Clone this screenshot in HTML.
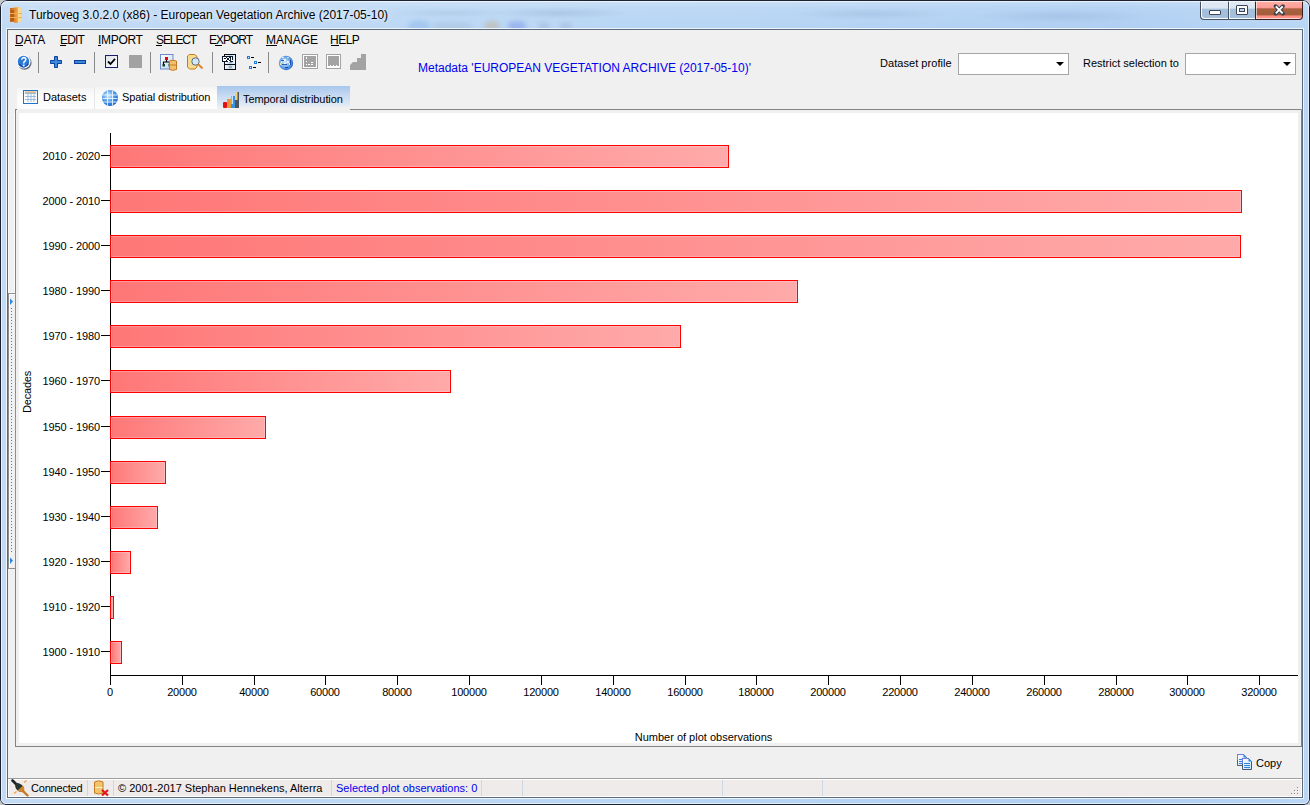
<!DOCTYPE html>
<html><head><meta charset="utf-8">
<style>
html,body{margin:0;padding:0;width:1310px;height:805px;overflow:hidden;background:#c8c8c8;}
*{box-sizing:border-box;}
#win{position:absolute;left:0;top:0;width:1310px;height:805px;font-family:"Liberation Sans",sans-serif;color:#000;
 border-radius:7px 7px 6px 6px;overflow:hidden;
 background:
  radial-gradient(ellipse 70px 6px at 560px 13px, rgba(110,140,180,0.22), rgba(110,140,180,0) 100%),
  radial-gradient(ellipse 80px 6px at 870px 14px, rgba(110,140,180,0.18), rgba(110,140,180,0) 100%),
  radial-gradient(ellipse 90px 7px at 1060px 16px, rgba(110,140,180,0.18), rgba(110,140,180,0) 100%),
  radial-gradient(ellipse 60px 5px at 450px 13px, rgba(110,140,180,0.15), rgba(110,140,180,0) 100%),
  linear-gradient(180deg, rgba(255,255,255,0.3) 0px, rgba(255,255,255,0.08) 8px, rgba(255,255,255,0) 28px),
  linear-gradient(90deg,#c2daf4 0%,#bcd8f5 30%,#b6d4f4 60%,#afcff2 85%,#b9d6f5 100%);}
.abs{position:absolute;}
.t{position:absolute;white-space:pre;line-height:1;}
.f12{font-size:12px;}
.f11{font-size:11px;}
.menu{font-size:12px;top:34px;}
.menu u{text-decoration:none;border-bottom:1px solid #000;}
.sep{position:absolute;top:52px;width:1px;height:21px;background:#8a8a8a;}
.lab{font-size:11px;}
.xl{width:100px;text-align:center;letter-spacing:-0.2px;}
.bar{position:absolute;left:110px;height:23px;border:1px solid #ff0000;
 background:linear-gradient(90deg,#ff7777,#ffaaaa);box-shadow:inset 0 0 0 1px rgba(255,255,255,0.22);}
.combo{position:absolute;top:53px;width:111px;height:22px;border:1px solid #a5a5a5;background:#fff;}
.combo:after{content:"";position:absolute;right:4px;top:8px;border-left:4px solid transparent;border-right:4px solid transparent;border-top:4px solid #000;}
.ssep{position:absolute;top:780px;width:1px;height:16px;background:#cdd8e3;}
</style></head><body>
<div id="win">
 <!-- glass blurred icons -->
 <div class="abs" style="left:408px;top:20px;width:22px;height:12px;border-radius:50%;background:rgba(120,170,230,0.35);filter:blur(2px);"></div>
 <div class="abs" style="left:432px;top:22px;width:40px;height:8px;border-radius:40%;background:rgba(130,150,180,0.18);filter:blur(2px);"></div>
 <div class="abs" style="left:484px;top:21px;width:16px;height:10px;border-radius:50%;background:rgba(200,160,110,0.35);filter:blur(2px);"></div>
 <div class="abs" style="left:508px;top:21px;width:18px;height:10px;border-radius:40%;background:rgba(100,120,230,0.35);filter:blur(2px);"></div>
 <div class="abs" style="left:538px;top:22px;width:12px;height:8px;border-radius:50%;background:rgba(120,140,170,0.2);filter:blur(2px);"></div>
 <div class="abs" style="left:560px;top:22px;width:12px;height:8px;border-radius:50%;background:rgba(120,140,170,0.2);filter:blur(2px);"></div>
 <!-- title icon -->
 <svg class="abs" style="left:10px;top:7px" width="12" height="16" viewBox="0 0 12 16" shape-rendering="crispEdges">
  <defs><linearGradient id="dbg" x1="0" x2="1"><stop offset="0" stop-color="#c0661c"/><stop offset="0.4" stop-color="#e08a30"/><stop offset="0.62" stop-color="#eaa44a"/><stop offset="0.66" stop-color="#f7dc98"/><stop offset="1" stop-color="#f6d48a"/></linearGradient></defs>
  <rect x="3" y="0" width="6" height="1" fill="#f2b860"/>
  <rect x="0" y="1" width="12" height="14" fill="url(#dbg)"/>
  <rect x="4" y="15" width="4" height="1" fill="#e8a050"/>
  <rect x="1" y="3" width="3" height="3" fill="#a85018" opacity="0.7"/>
  <rect x="1" y="7" width="3" height="3" fill="#a85018" opacity="0.7"/>
  <rect x="1" y="11" width="3" height="3" fill="#a85018" opacity="0.7"/>
  <rect x="0" y="6" width="12" height="1" fill="#f0b050"/>
  <rect x="0" y="10" width="12" height="1" fill="#f0b050"/>
 </svg>
 <div class="t f12" style="left:29px;top:9px;text-shadow:0 0 6px rgba(255,255,255,0.9),0 0 3px rgba(255,255,255,0.7);">Turboveg 3.0.2.0 (x86) - European Vegetation Archive (2017-05-10)</div>
 <!-- caption buttons -->
 <div class="abs" style="left:1200px;top:0;width:56px;height:20px;border:1px solid #46505e;border-top:none;border-right:none;border-radius:0 0 0 4px;background:linear-gradient(#e3ecf5 0%,#dbe6f1 42%,#a5c0dc 50%,#a3bedb 90%,#b4cbe3 100%);box-shadow:inset 1px -1px 0 rgba(255,255,255,0.9);"></div>
 <div class="abs" style="left:1228px;top:0;width:1px;height:19px;background:#46505e;"></div>
 <div class="abs" style="left:1229px;top:1px;width:1px;height:18px;background:rgba(255,255,255,0.8);"></div>
 <div class="abs" style="left:1209px;top:10px;width:12px;height:5px;background:#fff;border:1px solid #3c4656;border-radius:1px;"></div>
 <div class="abs" style="left:1236px;top:5px;width:12px;height:10px;border:1px solid #3c4656;border-radius:1px;background:#fff;"></div>
 <div class="abs" style="left:1239px;top:8px;width:6px;height:4px;border:1px solid #3c4656;background:#bcd6f0;"></div>
 <div class="abs" style="left:1255px;top:0;width:48px;height:20px;border:1px solid #3a2020;border-top:none;border-radius:0 0 4px 0;background:linear-gradient(#ffb4ac 0%,#ff9c94 40%,#a8603e 47%,#a45e3c 78%,#ff8c82 84%,#ff9a92 100%);box-shadow:inset 1px -1px 0 rgba(255,255,255,0.6);"></div>
 <svg class="abs" style="left:1273px;top:4px" width="13" height="12" viewBox="0 0 13 12">
  <path d="M2.6 2.2 L9.9 9.6 M9.9 2.2 L2.6 9.6" stroke="#34404e" stroke-width="3.8" fill="none" stroke-linecap="round"/>
  <path d="M2.8 2.4 L9.7 9.4 M9.7 2.4 L2.8 9.4" stroke="#fff" stroke-width="2" fill="none"/>
 </svg>

 <!-- client -->
 <div class="abs" style="left:6px;top:28px;width:1298px;height:771px;border:1px solid rgba(255,255,255,0.75);"></div>
 <div class="abs" style="left:7px;top:29px;width:1296px;height:769px;border:1px solid #5d6a7c;background:#f0f0f0;"></div>

 <!-- menu -->
 <div class="t menu" style="left:15px">DATA</div>
 <div class="t menu" style="left:60px;letter-spacing:-0.8px">EDIT</div>
 <div class="t menu" style="left:98px;letter-spacing:-0.3px">IMPORT</div>
 <div class="t menu" style="left:156px;letter-spacing:-1.1px">SELECT</div>
 <div class="t menu" style="left:209px;letter-spacing:-1px">EXPORT</div>
 <div class="t menu" style="left:266px">MANAGE</div>
 <div class="t menu" style="left:330px;letter-spacing:-0.5px">HELP</div>
 <div class="abs" style="left:15px;top:45px;width:8px;height:1px;background:#000"></div>
 <div class="abs" style="left:60px;top:45px;width:6px;height:1px;background:#000"></div>
 <div class="abs" style="left:98px;top:45px;width:3px;height:1px;background:#000"></div>
 <div class="abs" style="left:156px;top:45px;width:6px;height:1px;background:#000"></div>
 <div class="abs" style="left:215px;top:45px;width:7px;height:1px;background:#000"></div>
 <div class="abs" style="left:266px;top:45px;width:11px;height:1px;background:#000"></div>
 <div class="abs" style="left:331px;top:45px;width:8px;height:1px;background:#000"></div>

 <!-- toolbar -->
 <div class="sep" style="left:38px"></div>
 <div class="sep" style="left:94px"></div>
 <div class="sep" style="left:150px"></div>
 <div class="sep" style="left:212px"></div>
 <div class="sep" style="left:268px"></div>
 <!-- help -->
 <svg class="abs" style="left:16px;top:54px" width="18" height="18" viewBox="0 0 18 18">
  <circle cx="8.6" cy="8.8" r="7" fill="#4a5466" opacity="0.85"/>
  <circle cx="7.6" cy="7.6" r="7" fill="#fbfdff"/>
  <circle cx="7.5" cy="7.5" r="5.7" fill="#2a7ad6"/>
  <path d="M3 10 Q5 13 8 13 Q11 12.5 12.5 9.5" stroke="#0a3cb0" stroke-width="1.4" fill="none" opacity="0.8"/>
  <path d="M5.6 5.6 Q6 3.5 7.8 3.5 Q9.8 3.6 9.8 5.4 Q9.8 6.6 8.6 7.4 Q7.7 8 7.7 9.4" stroke="#fff" stroke-width="1.5" fill="none"/>
  <rect x="6.8" y="10.6" width="1.8" height="1.8" fill="#fff"/>
 </svg>
 <!-- plus/minus -->
 <svg class="abs" style="left:50px;top:56px" width="12" height="12" viewBox="0 0 12 12">
  <path d="M4.5 0.5 H7.5 V4.5 H11.5 V7.5 H7.5 V11.5 H4.5 V7.5 H0.5 V4.5 H4.5 Z" fill="#3a8ad8" stroke="#0b3fa0" stroke-width="1"/>
 </svg>
 <svg class="abs" style="left:74px;top:60px" width="12" height="4" viewBox="0 0 12 4">
  <rect x="0.5" y="0.5" width="11" height="3" fill="#3a8ad8" stroke="#0b3fa0" stroke-width="1"/>
 </svg>
 <!-- checkbox -->
 <div class="abs" style="left:105px;top:55px;width:13px;height:13px;border:1px solid #1c1f6a;background:linear-gradient(135deg,#dfe3ea,#fafbfc);"></div>
 <svg class="abs" style="left:107px;top:57px" width="9" height="9" viewBox="0 0 9 9">
  <path d="M1 4.5 L3.5 7 L8 1.8" stroke="#000" stroke-width="1.8" fill="none"/>
 </svg>
 <div class="abs" style="left:129px;top:55px;width:13px;height:13px;background:#a2a2a2;"></div>
 <!-- org chart + db -->
 <svg class="abs" style="left:159px;top:53px" width="19" height="18" viewBox="0 0 19 18">
  <defs><linearGradient id="og" x1="0" y1="0" x2="1" y2="1"><stop offset="0" stop-color="#fff"/><stop offset="1" stop-color="#bcd8f4"/></linearGradient></defs>
  <rect x="1.5" y="1.5" width="12.5" height="14.5" fill="url(#og)" stroke="#6f8cc8"/>
  <rect x="6" y="4" width="3" height="3" fill="#e00"/>
  <path d="M7.5 7 V9 M4.5 12 V9 H10.5 V12" stroke="#000" stroke-width="1.2" fill="none"/>
  <rect x="3.5" y="11" width="2.5" height="2.5" fill="#1a3a2a"/>
  <rect x="9.5" y="11" width="2.5" height="2.5" fill="#1a3a2a"/>
  <path d="M10.5 8 Q14 6.5 17.5 8 V16.5 Q14 18 10.5 16.5 Z" fill="#f3c070" stroke="#c47a20"/>
  <path d="M11 12 H17" stroke="#c47a20"/>
 </svg>
 <!-- db search -->
 <svg class="abs" style="left:186px;top:53px" width="19" height="18" viewBox="0 0 19 18">
  <path d="M1.5 3 L3.5 1.5 H8.5 L11 3.5 V14 L9 16 H3.5 L1.5 14 Z" fill="#f6dc90" stroke="#c87a18"/>
  <circle cx="9.5" cy="8.5" r="3.7" fill="#cfe8fa" stroke="#5a6a80" stroke-width="1"/>
  <path d="M12 11 L16.5 15.5" stroke="#d8862a" stroke-width="2"/>
 </svg>
 <!-- SQL -->
 <svg class="abs" style="left:221px;top:53px" width="16" height="18" viewBox="0 0 16 18" shape-rendering="crispEdges">
  <defs><linearGradient id="sqg" x1="0" x2="1"><stop offset="0" stop-color="#f4f9ff"/><stop offset="0.5" stop-color="#b9d6f2"/><stop offset="1" stop-color="#eaf4ff"/></linearGradient></defs>
  <rect x="3" y="1" width="12" height="16" fill="#0c0c10"/>
  <rect x="4" y="2" width="10" height="14" fill="url(#sqg)"/>
  <rect x="3" y="11" width="12" height="1" fill="#0c0c10"/>
  <rect x="8" y="9" width="3" height="1" fill="#a8a8a0"/>
  <rect x="8" y="13" width="3" height="2" fill="#b0aa98"/>
  <rect x="1" y="3" width="11" height="6" fill="#0c1a2c"/>
  <g fill="#fff">
   <rect x="2" y="4" width="3" height="1"/><rect x="2" y="5" width="1" height="1"/><rect x="2" y="6" width="3" height="1"/><rect x="4" y="7" width="1" height="1"/><rect x="2" y="7" width="3" height="1"/>
   <rect x="6" y="4" width="2" height="1"/><rect x="5" y="5" width="1" height="2"/><rect x="8" y="5" width="1" height="2"/><rect x="6" y="7" width="2" height="1"/><rect x="7" y="8" width="2" height="1"/>
   <rect x="10" y="4" width="1" height="4"/><rect x="10" y="7" width="2" height="1"/>
  </g>
 </svg>
 <!-- tree -->
 <svg class="abs" style="left:246px;top:55px" width="17" height="15" viewBox="0 0 17 15">
  <rect x="1" y="1" width="3" height="3" fill="#1e7ad8"/><rect x="5" y="2" width="3" height="1" fill="#000"/>
  <rect x="8" y="6" width="3" height="3" fill="#1e7ad8"/><rect x="12" y="7" width="3" height="1" fill="#000"/>
  <rect x="3" y="11" width="3" height="3" fill="#1e7ad8"/><rect x="7" y="12" width="3" height="1" fill="#000"/>
  <g fill="#e8f4ff"><rect x="2" y="2" width="1" height="1"/><rect x="9" y="7" width="1" height="1"/><rect x="4" y="12" width="1" height="1"/></g>
 </svg>
 <!-- globe -->
 <svg class="abs" style="left:278px;top:55px" width="16" height="16" viewBox="0 0 16 16">
  <defs><radialGradient id="glb" cx="0.42" cy="0.45" r="0.7"><stop offset="0" stop-color="#dcecfa"/><stop offset="0.45" stop-color="#7ab4ec"/><stop offset="0.8" stop-color="#2a6ed6"/><stop offset="1" stop-color="#1a30a8"/></radialGradient></defs>
  <circle cx="8" cy="8" r="7.2" fill="url(#glb)"/>
  <g fill="#ffffff" opacity="0.75"><rect x="4" y="2" width="2" height="1"/><rect x="9" y="2" width="2" height="1"/><rect x="5" y="4" width="3" height="2"/><rect x="9" y="6" width="2" height="2"/><rect x="6" y="8" width="2" height="2"/><rect x="3" y="6" width="1" height="2"/></g>
  <g fill="#1a3aa8" opacity="0.8"><rect x="3" y="5" width="3" height="1"/><rect x="4" y="9" width="5" height="1"/><rect x="12" y="5" width="1" height="5"/><rect x="7" y="12" width="3" height="1"/></g>
  <rect x="11" y="8" width="1" height="2" fill="#f8f0a0"/><rect x="2" y="8" width="1" height="2" fill="#f8f0a0"/>
 </svg>
 <!-- grey icons -->
 <div class="abs" style="left:302px;top:54px;width:16px;height:15px;border:1px solid #a3a3a3;background:#fff;"></div>
 <div class="abs" style="left:304px;top:56px;width:12px;height:11px;background:#a3a3a3;"></div>
 <svg class="abs" style="left:304px;top:56px" width="12" height="11" viewBox="0 0 12 11">
  <rect x="2" y="1" width="1" height="2" fill="#fff"/><rect x="2" y="5" width="1" height="1" fill="#fff"/>
  <rect x="2" y="8" width="1" height="1" fill="#fff"/><rect x="4" y="8" width="2" height="1" fill="#fff"/>
  <rect x="7" y="8" width="2" height="1" fill="#fff"/><rect x="7" y="6" width="2" height="1" fill="#fff"/>
 </svg>
 <div class="abs" style="left:326px;top:54px;width:15px;height:15px;border:1px solid #a3a3a3;background:#fff;"></div>
 <div class="abs" style="left:328px;top:56px;width:11px;height:11px;background:#a3a3a3;"></div>
 <svg class="abs" style="left:328px;top:56px" width="11" height="11" viewBox="0 0 11 11">
  <rect x="0" y="10" width="11" height="1" fill="#fff"/>
  <rect x="2" y="9" width="1" height="1" fill="#fff"/><rect x="5" y="9" width="1" height="1" fill="#fff"/><rect x="8" y="9" width="1" height="1" fill="#fff"/>
 </svg>
 <svg class="abs" style="left:350px;top:54px" width="16" height="16" viewBox="0 0 16 16">
  <path d="M11 0 H16 V16 H0 V11 L3 8 H7 V4 H11 Z" fill="#a3a3a3"/>
 </svg>

 <!-- metadata -->
 <div class="t f12" style="left:418px;top:62px;color:#0000f0">Metadata 'EUROPEAN VEGETATION ARCHIVE (2017-05-10)'</div>
 <div class="t f11" style="left:880px;top:58px;letter-spacing:0.05px">Dataset profile</div>
 <div class="combo" style="left:958px"></div>
 <div class="t f11" style="left:1083px;top:58px">Restrict selection to</div>
 <div class="combo" style="left:1185px"></div>

 <!-- tabs -->
 <div class="abs" style="left:17px;top:88px;width:78px;height:21px;background:linear-gradient(#f4f4f4,#fcfcfc 40%,#fdfdfd);border-right:1px solid #e6e6e6;"></div>
 <div class="abs" style="left:95px;top:87px;width:122px;height:22px;background:linear-gradient(#f4f4f4,#fcfcfc 40%,#fdfdfd);"></div>
 <div class="abs" style="left:217px;top:86px;width:133px;height:21px;background:linear-gradient(#a7c7ee,#c9dbf1 50%,#e6edf5);"></div>
 <!-- tab icons -->
 <svg class="abs" style="left:22px;top:89px" width="17" height="16" viewBox="0 0 17 16">
  <rect x="1.5" y="1.5" width="14" height="13" fill="#fff" stroke="#1f74d0"/>
  <rect x="2" y="2" width="13" height="3" fill="#e0fbff"/>
  <path d="M3 3.2 H14" stroke="#f7a23a" stroke-width="1.2"/>
  <path d="M3 4.5 H14 M3 7.5 H14 M3 10.5 H14 M6 3 V13 M9 3 V13 M12 3 V13" stroke="#9dbbdd" stroke-width="1" fill="none"/>
 </svg>
 <svg class="abs" style="left:101px;top:89px" width="18" height="18" viewBox="0 0 18 18">
  <defs><radialGradient id="glb2" cx="0.4" cy="0.35" r="0.75"><stop offset="0" stop-color="#cfeaff"/><stop offset="0.6" stop-color="#3a8be0"/><stop offset="1" stop-color="#1a5ac0"/></radialGradient></defs>
  <circle cx="9" cy="9" r="8" fill="url(#glb2)"/>
  <path d="M2 6 H16 M1.5 9.5 H16.5 M2 13 H16 M6.5 1.5 V16.5 M11.5 1.5 V16.5" stroke="#eaf6ff" stroke-width="1" fill="none" opacity="0.9"/>
 </svg>
 <svg class="abs" style="left:222px;top:91px" width="18" height="18" viewBox="0 0 18 18">
  <rect x="13" y="1" width="4" height="16" fill="#4a5560"/><rect x="13" y="1" width="2.5" height="8" fill="#f1cf7a"/>
  <rect x="9" y="5" width="4" height="12" fill="#3d8fe0"/><rect x="9.5" y="5" width="1.5" height="8" fill="#bfe3fb"/>
  <rect x="5" y="8" width="4" height="9" fill="#e39a3c"/>
  <rect x="1" y="11" width="4" height="6" rx="1" fill="#e50f0f"/>
 </svg>
 <div class="t f11" style="left:43px;top:92px">Datasets</div>
 <div class="t f11" style="left:122px;top:92px;letter-spacing:-0.08px">Spatial distribution</div>
 <div class="t f11" style="left:243px;top:94px;letter-spacing:-0.08px">Temporal distribution</div>

 <!-- panel -->
 <div class="abs" style="left:15px;top:109px;width:1287px;height:638px;border:1px solid #838383;border-top-color:transparent;"></div>
 <div class="abs" style="left:350px;top:109px;width:951px;height:1px;background:#838383;"></div>
 <div class="abs" style="left:15px;top:109px;width:2px;height:1px;background:#838383;"></div>
 <div class="abs" style="left:19px;top:113px;width:1279px;height:630px;background:#fff;"></div>

 <!-- splitter -->
 <div class="abs" style="left:8px;top:293px;width:8px;height:276px;border:1px solid #8e8e8e;background:#f0f0f0;box-shadow:inset 1px 1px 0 #fff;"></div>
 <div class="abs" style="left:8px;top:113px;width:1px;height:180px;background:#fbfbfb;"></div>
 <div class="abs" style="left:14px;top:113px;width:1px;height:180px;background:#fbfbfb;"></div>
 <div class="abs" style="left:8px;top:292px;width:7px;height:1px;background:#fbfbfb;"></div>
 <svg class="abs" style="left:9px;top:298px" width="5" height="8" viewBox="0 0 5 8"><path d="M1 0.5 L4 3.5 L1 7 Z" fill="#2b86e0"/></svg>
 <svg class="abs" style="left:9px;top:557px" width="5" height="8" viewBox="0 0 5 8"><path d="M1 0.5 L4 3.5 L1 7 Z" fill="#2b86e0"/></svg>
 <div class="abs" style="left:11px;top:308px;width:1px;height:245px;background:repeating-linear-gradient(#2b86e0 0 1px,transparent 1px 3px);"></div>

<div class="abs" style="left:110px;top:133px;width:1px;height:552px;background:#000"></div>
<div class="abs" style="left:110px;top:675px;width:1188px;height:1px;background:#000"></div>
<div class="bar" style="top:145px;width:619px"></div>
<div class="abs" style="left:101px;top:155px;width:9px;height:1px;background:#000"></div>
<div class="t lab" style="right:1210px;top:151px;letter-spacing:-0.12px">2010 - 2020</div>
<div class="bar" style="top:190px;width:1132px"></div>
<div class="abs" style="left:101px;top:200px;width:9px;height:1px;background:#000"></div>
<div class="t lab" style="right:1210px;top:196px;letter-spacing:-0.12px">2000 - 2010</div>
<div class="bar" style="top:235px;width:1131px"></div>
<div class="abs" style="left:101px;top:245px;width:9px;height:1px;background:#000"></div>
<div class="t lab" style="right:1210px;top:241px;letter-spacing:-0.12px">1990 - 2000</div>
<div class="bar" style="top:280px;width:688px"></div>
<div class="abs" style="left:101px;top:290px;width:9px;height:1px;background:#000"></div>
<div class="t lab" style="right:1210px;top:286px;letter-spacing:-0.12px">1980 - 1990</div>
<div class="bar" style="top:325px;width:571px"></div>
<div class="abs" style="left:101px;top:335px;width:9px;height:1px;background:#000"></div>
<div class="t lab" style="right:1210px;top:331px;letter-spacing:-0.12px">1970 - 1980</div>
<div class="bar" style="top:370px;width:341px"></div>
<div class="abs" style="left:101px;top:380px;width:9px;height:1px;background:#000"></div>
<div class="t lab" style="right:1210px;top:376px;letter-spacing:-0.12px">1960 - 1970</div>
<div class="bar" style="top:416px;width:156px"></div>
<div class="abs" style="left:101px;top:426px;width:9px;height:1px;background:#000"></div>
<div class="t lab" style="right:1210px;top:422px;letter-spacing:-0.12px">1950 - 1960</div>
<div class="bar" style="top:461px;width:56px"></div>
<div class="abs" style="left:101px;top:471px;width:9px;height:1px;background:#000"></div>
<div class="t lab" style="right:1210px;top:467px;letter-spacing:-0.12px">1940 - 1950</div>
<div class="bar" style="top:506px;width:48px"></div>
<div class="abs" style="left:101px;top:516px;width:9px;height:1px;background:#000"></div>
<div class="t lab" style="right:1210px;top:512px;letter-spacing:-0.12px">1930 - 1940</div>
<div class="bar" style="top:551px;width:21px"></div>
<div class="abs" style="left:101px;top:561px;width:9px;height:1px;background:#000"></div>
<div class="t lab" style="right:1210px;top:557px;letter-spacing:-0.12px">1920 - 1930</div>
<div class="bar" style="top:596px;width:4px"></div>
<div class="abs" style="left:101px;top:606px;width:9px;height:1px;background:#000"></div>
<div class="t lab" style="right:1210px;top:602px;letter-spacing:-0.12px">1910 - 1920</div>
<div class="bar" style="top:641px;width:12px"></div>
<div class="abs" style="left:101px;top:651px;width:9px;height:1px;background:#000"></div>
<div class="t lab" style="right:1210px;top:647px;letter-spacing:-0.12px">1900 - 1910</div>
<div class="abs" style="left:110px;top:675px;width:1px;height:10px;background:#000"></div>
<div class="t lab xl" style="left:60px;top:687px">0</div>
<div class="abs" style="left:182px;top:675px;width:1px;height:10px;background:#000"></div>
<div class="t lab xl" style="left:132px;top:687px">20000</div>
<div class="abs" style="left:254px;top:675px;width:1px;height:10px;background:#000"></div>
<div class="t lab xl" style="left:204px;top:687px">40000</div>
<div class="abs" style="left:325px;top:675px;width:1px;height:10px;background:#000"></div>
<div class="t lab xl" style="left:275px;top:687px">60000</div>
<div class="abs" style="left:397px;top:675px;width:1px;height:10px;background:#000"></div>
<div class="t lab xl" style="left:347px;top:687px">80000</div>
<div class="abs" style="left:469px;top:675px;width:1px;height:10px;background:#000"></div>
<div class="t lab xl" style="left:419px;top:687px">100000</div>
<div class="abs" style="left:541px;top:675px;width:1px;height:10px;background:#000"></div>
<div class="t lab xl" style="left:491px;top:687px">120000</div>
<div class="abs" style="left:613px;top:675px;width:1px;height:10px;background:#000"></div>
<div class="t lab xl" style="left:563px;top:687px">140000</div>
<div class="abs" style="left:685px;top:675px;width:1px;height:10px;background:#000"></div>
<div class="t lab xl" style="left:635px;top:687px">160000</div>
<div class="abs" style="left:756px;top:675px;width:1px;height:10px;background:#000"></div>
<div class="t lab xl" style="left:706px;top:687px">180000</div>
<div class="abs" style="left:828px;top:675px;width:1px;height:10px;background:#000"></div>
<div class="t lab xl" style="left:778px;top:687px">200000</div>
<div class="abs" style="left:900px;top:675px;width:1px;height:10px;background:#000"></div>
<div class="t lab xl" style="left:850px;top:687px">220000</div>
<div class="abs" style="left:972px;top:675px;width:1px;height:10px;background:#000"></div>
<div class="t lab xl" style="left:922px;top:687px">240000</div>
<div class="abs" style="left:1044px;top:675px;width:1px;height:10px;background:#000"></div>
<div class="t lab xl" style="left:994px;top:687px">260000</div>
<div class="abs" style="left:1116px;top:675px;width:1px;height:10px;background:#000"></div>
<div class="t lab xl" style="left:1066px;top:687px">280000</div>
<div class="abs" style="left:1187px;top:675px;width:1px;height:10px;background:#000"></div>
<div class="t lab xl" style="left:1137px;top:687px">300000</div>
<div class="abs" style="left:1259px;top:675px;width:1px;height:10px;background:#000"></div>
<div class="t lab xl" style="left:1209px;top:687px">320000</div>
<div class="t lab" style="left:0;width:1310px;text-align:center;top:732px;padding-left:97px">Number of plot observations</div>
<div class="t lab" style="left:22px;top:413px;letter-spacing:-0.2px;transform-origin:0 0;transform:rotate(-90deg)">Decades</div>

 <!-- copy -->
 <svg class="abs" style="left:1236px;top:753px" width="17" height="18" viewBox="0 0 17 18">
  <defs><linearGradient id="cpg" x1="0" y1="0" x2="1" y2="1"><stop offset="0" stop-color="#ffffff"/><stop offset="1" stop-color="#bfe2fb"/></linearGradient></defs>
  <path d="M1.5 1.5 H7.5 L10.5 4.5 V12.5 H1.5 Z" fill="url(#cpg)" stroke="#4f5a6a"/>
  <path d="M1.5 7 V1.5 H7.5" stroke="#7878e8" fill="none"/>
  <path d="M7.5 1 L11 4.5 H7.5 Z" fill="#2f86e0"/>
  <path d="M3 6.5 H7 M3 8.5 H7 M3 10.5 H7" stroke="#2b86e0"/>
  <path d="M6.5 5.5 H12.5 L15.5 8.5 V16.5 H6.5 Z" fill="url(#cpg)" stroke="#4a5670"/>
  <path d="M6.5 11 V5.5 H12.5" stroke="#7878e8" fill="none"/>
  <path d="M12.5 5 L16 8.5 H12.5 Z" fill="#2f86e0"/>
  <path d="M8 10.5 H14 M8 12.5 H14 M8 14.5 H14" stroke="#2b86e0"/>
 </svg>
 <div class="t f11" style="left:1256px;top:758px">Copy</div>

 <!-- status bar -->
 <div class="abs" style="left:8px;top:778px;width:1294px;height:1px;background:#a0a0a0;"></div>
 <div class="abs" style="left:8px;top:779px;width:1294px;height:18px;background:#fff;"></div>
 <div class="abs" style="left:9px;top:780px;width:1292px;height:16px;background:#efebea;"></div>
 <div class="ssep" style="left:87px"></div>
 <div class="ssep" style="left:113px"></div>
 <div class="ssep" style="left:331px"></div>
 <div class="ssep" style="left:481px"></div>
 <div class="ssep" style="left:522px"></div>
 <div class="ssep" style="left:722px"></div>
 <div class="ssep" style="left:822px"></div>
 <!-- plug icon -->
 <svg class="abs" style="left:11px;top:779px" width="19" height="18" viewBox="0 0 19 18">
  <path d="M3 14.5 L5.5 12.5 M13 3.5 L15.5 1.5" stroke="#f0a040" stroke-width="1.2"/>
  <path d="M1.5 1.5 L5 5" stroke="#1c2424" stroke-width="2.6" stroke-linecap="round"/>
  <ellipse cx="8.5" cy="8.5" rx="5.2" ry="3.4" transform="rotate(45 8.5 8.5)" fill="#27332e"/>
  <path d="M6.5 11.5 Q10 8.5 12 6.5 Q14.5 10 12.5 13 Q10.5 14 6.5 11.5 Z" fill="#d0862c"/>
  <path d="M12 12 L16.5 16.5" stroke="#c47a24" stroke-width="2.4" stroke-linecap="round"/>
 </svg>
 <div class="t f11" style="left:31px;top:783px;letter-spacing:-0.2px">Connected</div>
 <!-- db x -->
 <svg class="abs" style="left:93px;top:779px" width="17" height="18" viewBox="0 0 17 18">
  <path d="M1.5 3 Q5.5 0.5 10 3 V14 Q5.5 16 1.5 14 Z" fill="#f1c46e" stroke="#c47a20"/>
  <path d="M2 8.5 H9.5" stroke="#fff3c8"/>
  <path d="M9 11 L15 16.5 M15 11 L9 16.5" stroke="#e01818" stroke-width="2.2"/>
 </svg>
 <div class="t f11" style="left:118px;top:783px">© 2001-2017 Stephan Hennekens, Alterra</div>
 <div class="t f11" style="left:336px;top:783px;color:#0000f0">Selected plot observations: 0</div>
 <!-- gripper -->
 <svg class="abs" style="left:1290px;top:786px" width="9" height="9" viewBox="0 0 9 9">
  <g fill="#fff"><rect x="8" y="2" width="1" height="1"/><rect x="5" y="5" width="1" height="1"/><rect x="8" y="5" width="1" height="1"/><rect x="2" y="8" width="1" height="1"/><rect x="5" y="8" width="1" height="1"/><rect x="8" y="8" width="1" height="1"/></g>
  <g fill="#7a8290"><rect x="7" y="1" width="1" height="1"/><rect x="4" y="4" width="1" height="1"/><rect x="7" y="4" width="1" height="1"/><rect x="1" y="7" width="1" height="1"/><rect x="4" y="7" width="1" height="1"/><rect x="7" y="7" width="1" height="1"/></g>
 </svg>
 <!-- outer frame -->
 <div class="abs" style="left:0;top:0;width:1310px;height:805px;border:1px solid #1c2230;border-radius:7px 7px 6px 6px;"></div>
 <div class="abs" style="left:1px;top:1px;width:1308px;height:803px;border:1px solid rgba(255,255,255,0.6);border-radius:6px 6px 5px 5px;"></div>

</div></body></html>
